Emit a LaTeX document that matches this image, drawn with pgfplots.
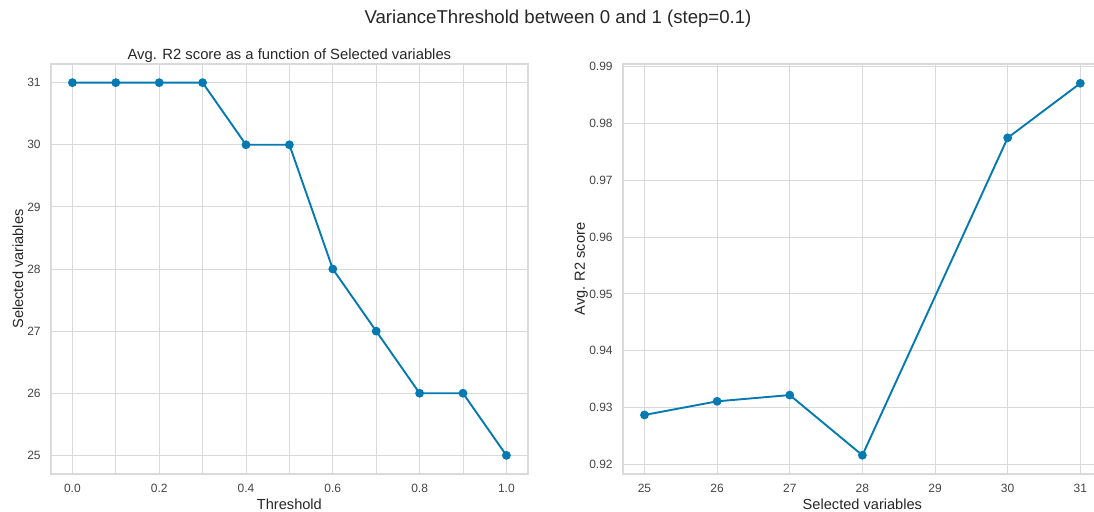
\documentclass[border=0pt]{standalone}
\usepackage{fontspec}
\setmainfont{Liberation Sans}
\usepackage{pgfplots}
\pgfplotsset{compat=1.18}

\definecolor{lineblue}{HTML}{0579B1}
\definecolor{gridgray}{HTML}{D9D9D9}
\definecolor{framegray}{HTML}{DADADA}
\definecolor{ticktext}{HTML}{444444}
\definecolor{labeltext}{HTML}{262626}

\pgfplotsset{
  whitegrid/.style={
    scale only axis,
    anchor=south west,
    grid=major,
    major grid style={gridgray, line width=0.5pt},
    axis line style={framegray, line width=0.9pt},
    major tick length=0pt,
    tick style={draw=none},
    /pgf/number format/assume math mode=true,
    tick label style={font=\fontsize{6}{7}\selectfont, text=ticktext},
    label style={font=\fontsize{7.3}{8.5}\selectfont, text=labeltext},
    title style={font=\fontsize{7.4}{8.5}\selectfont, text=labeltext, yshift=-9pt},
    xticklabel style={yshift=-1.5pt},
    yticklabel style={xshift=-1.5pt},
    xlabel style={yshift=3.5pt},
  },
  dataline/.style={lineblue, line width=0.95pt, mark=*, mark size=1.7pt,
    mark options={fill=lineblue, draw=lineblue}},
}

\begin{document}
\begin{tikzpicture}
\path[use as bounding box] (0,0) rectangle (547pt,255.5pt);

% left: selected variables vs threshold
\begin{axis}[
  whitegrid,
  at={(25.35pt,18.5pt)},
  width=238.7pt, height=205pt,
  xmin=-0.05, xmax=1.05,
  ymin=24.7, ymax=31.3,
  xtick={0,0.2,0.4,0.6,0.8,1.0},
  minor xtick={0.1,0.3,0.5,0.7,0.9},
  minor grid style={gridgray, line width=0.5pt},
  xminorgrids=true,
  ytick={25,26,27,28,29,30,31},
  xticklabel style={/pgf/number format/.cd, fixed, fixed zerofill, precision=1},
  xlabel={Threshold},
  ylabel={Selected variables},
  ylabel style={yshift=-4.8pt},
  title={Avg. R2 score as a function of Selected variables},
]
\addplot[dataline] coordinates {
  (0.0,31) (0.1,31) (0.2,31) (0.3,31) (0.4,30) (0.5,30)
  (0.6,28) (0.7,27) (0.8,26) (0.9,26) (1.0,25)
};
\end{axis}

% right: score vs selected variables (frame runs past the page edge)
\begin{axis}[
  whitegrid,
  at={(311.35pt,18.5pt)},
  width=239.7pt, height=205pt,
  xmin=24.7, xmax=31.3,
  ymin=0.9183, ymax=0.9905,
  xtick={25,26,27,28,29,30,31},
  ytick={0.92,0.93,0.94,0.95,0.96,0.97,0.98,0.99},
  yticklabel style={/pgf/number format/.cd, fixed, fixed zerofill, precision=2},
  xlabel={Selected variables},
  ylabel={Avg. R2 score},
  ylabel style={yshift=-6.2pt},
]
\addplot[dataline] coordinates {
  (25,0.9287) (26,0.9311) (27,0.9322) (28,0.9216) (30,0.9775) (31,0.9871)
};
\end{axis}

\node[font=\fontsize{9.3}{10}\selectfont, text=labeltext] at (279pt,246pt)
  {VarianceThreshold between 0 and 1 (step=0.1)};
\end{tikzpicture}
\end{document}
